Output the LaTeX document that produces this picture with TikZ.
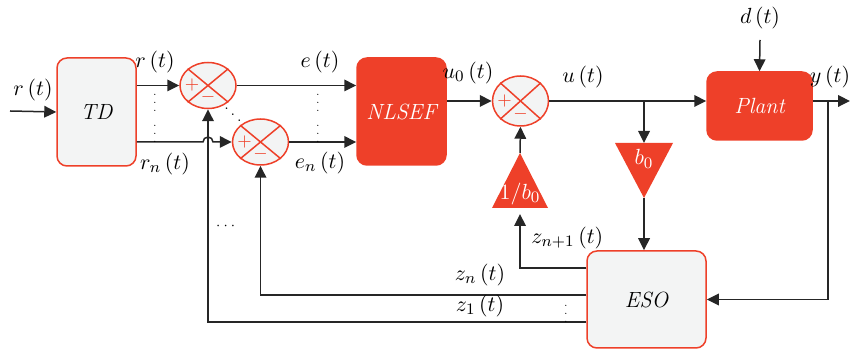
\documentclass[tikz,border=0pt]{standalone}
\usepackage{amsmath}
\usetikzlibrary{arrows.meta,calc,shapes.geometric}
\definecolor{blkred}{HTML}{EE4029}
\definecolor{blkgray}{HTML}{F3F4F4}
\definecolor{wire}{HTML}{262626}

\begin{document}
\begin{tikzpicture}[x=0.5pt,y=-0.5pt,line width=0.75pt,draw=wire,
	font=\fontsize{11}{13}\selectfont,
	>={Triangle[length=6pt,width=5.8pt]},
	blk/.style={draw=blkred,fill=blkgray,rounded corners=5pt,font=\fontsize{11}{13}\selectfont\itshape},
	redblk/.style={draw=blkred,fill=blkred,rounded corners=5pt,text=white,font=\fontsize{11}{13}\selectfont\itshape},
	sum/.style={ellipse,draw=blkred,fill=blkgray,minimum width=28pt,minimum height=23pt,inner sep=0pt},
	sgn/.style={text=blkred,font=\small,inner sep=0pt},
	dts/.style={font=\tiny,inner sep=0pt}]
		\useasboundingbox (0,0) rectangle (850,351);
		% blocks
		\node[blk,minimum width=39.5pt,minimum height=54pt] (TD) at (96.5,112) {TD};
		\node[redblk,minimum width=44.5pt,minimum height=53.5pt] (NL) at (401.5,111.5) {NLSEF};
		\node[redblk,minimum width=52.5pt,minimum height=34pt] (P) at (759.5,106) {Plant};
		\node[blk,minimum width=59.5pt,minimum height=48.5pt] (ESO) at (646.5,299.5) {ESO};
		% summing points
		\node[sum] (S1) at (208,85.5) {};
		\draw[blkred] (S1.north west) -- (S1.south east) (S1.north east) -- (S1.south west);
		\node[sgn] at ($(S1.center)+(-16,0)$) {$+$};
		\node[sgn] at ($(S1.center)+(0,12)$) {$-$};
		\node[sum] (S2) at (260.5,142) {};
		\draw[blkred] (S2.north west) -- (S2.south east) (S2.north east) -- (S2.south west);
		\node[sgn] at ($(S2.center)+(-16,0)$) {$+$};
		\node[sgn] at ($(S2.center)+(0,12)$) {$-$};
		\node[sum,minimum height=25pt] (S3) at (520.5,101) {};
		\draw[blkred] (S3.north west) -- (S3.south east) (S3.north east) -- (S3.south west);
		\node[sgn] at ($(S3.center)+(-16,0)$) {$+$};
		\node[sgn] at ($(S3.center)+(0,13)$) {$-$};
		% gains
		\coordinate (IBtip) at (520,153);
		\coordinate (IBbase) at (520,208);
		\fill[blkred] (IBtip) -- ($(IBbase)+(28,0)$) -- ($(IBbase)+(-28,0)$) -- cycle;
		\node[text=white,inner sep=0pt] (IB) at (520,194) {$1/b_0$};
		\coordinate (B0top) at (644,143);
		\coordinate (B0tip) at (644,198);
		\fill[blkred] (B0tip) -- ($(B0top)+(29,0)$) -- ($(B0top)+(-29,0)$) -- cycle;
		\node[text=white,inner sep=0pt] (B0) at (644,159) {$b_0$};
		% reference side
		\coordinate (rin) at (10,111);
		\draw[->] (rin) -- (TD.west);
		\draw (33,90) node{$r\,(t)$};
		\draw[->] (S1.west -| TD.east) -- (S1.west);
		\draw[->] (S2.west -| TD.east) -- ($(S1 |- S2.west)+(-5,0)$) arc (180:360:5) -- (S2.west);
		\draw (155,62) node{$r\,(t)$};
		\draw (165,164) node{$r_n\,(t)$};
		\node[dts] at (155,97) {$\vdots$};
		\node[dts] at (155,128) {$\vdots$};
		\node[dts,font=\scriptsize] at (233,109) {$\ddots$};
		\draw[->] (S1.east) -- (S1.east -| NL.west);
		\draw[->] (S2.east) -- (S2.east -| NL.west);
		\draw (320,62) node{$e\,(t)$};
		\draw (320,163) node{$e_n\,(t)$};
		\node[dts] at (318,97) {$\vdots$};
		\node[dts] at (318,128) {$\vdots$};
		% control law and plant
		\draw[->] (NL.east |- S3.west) -- (S3.west);
		\draw (468,73) node{$u_0\,(t)$};
		\draw[->] (S3.east) -- (S3.east -| P.west);
		\draw (583,77) node{$u\,(t)$};
		\draw[->] (IBtip) -- (S3.south);
		\coordinate (ub) at (644,101);
		\draw[->] (ub) -- (B0top);
		\draw[->] (B0tip) -- (B0tip |- ESO.north);
		\coordinate (din) at (760,40);
		\draw[->] (din) -- (P.north);
		\draw (760,18) node{$d\,(t)$};
		\coordinate (yout) at (850,101);
		\draw[->] (P.east |- yout) -- (yout);
		\draw (830,77) node{$y\,(t)$};
		\coordinate (yb) at (828,101);
		\draw[->] (yb) |- (ESO.east);
		% observer feedback
		\draw[->] (ESO.west |- 0,268) -| ($(IBbase)+(0,6)$);
		\draw (524,238) node[anchor=west]{$z_{n+1}\,(t)$};
		\draw[->] (ESO.west |- 0,295) -| (S2.south);
		\draw (480,275) node{$z_n\,(t)$};
		\draw[->] (ESO.west |- 0,322) -| (S1.south);
		\draw (480,306) node{$z_1\,(t)$};
		\node[dts] at (566,308) {$\vdots$};
		\node[dts,font=\scriptsize] at (227,226) {$\cdots$};
\end{tikzpicture}
\end{document}
